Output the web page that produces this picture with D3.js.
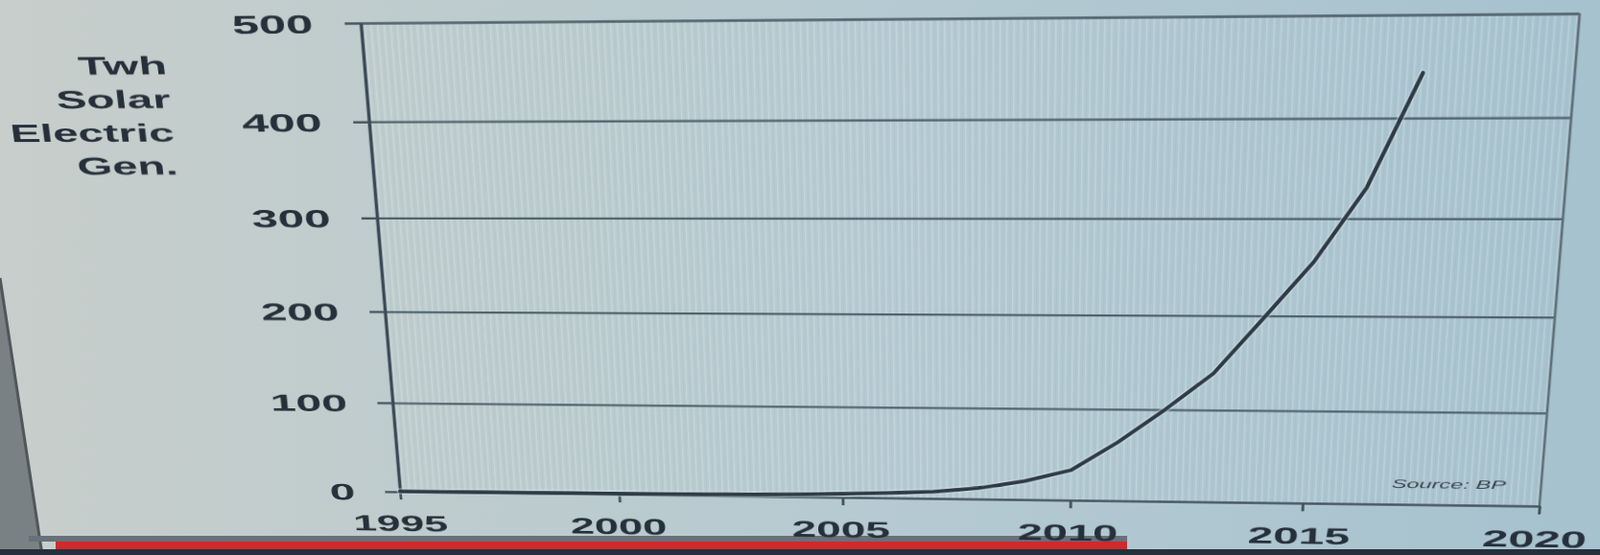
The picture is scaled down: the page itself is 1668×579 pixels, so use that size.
<!DOCTYPE html>
<html><head><meta charset="utf-8">
<script src="https://cdn.jsdelivr.net/npm/d3@7"></script>
<style>
html,body{margin:0;padding:0;width:1668px;height:579px;overflow:hidden;background:#bccbcd;}
#bg{position:absolute;left:0;top:0;}
#wrap{position:absolute;left:0;top:0;width:1668px;height:579px;transform-origin:0 0;}
#chart{overflow:visible;}
text{font-family:"Liberation Sans",Arial,sans-serif;}
</style></head><body>
<svg id="bg" width="1668" height="579"></svg>
<div id="wrap"><svg id="chart" width="1668" height="579"></svg></div>
<script>
// ---- data ----
const years = [1995,1996,1997,1998,1999,2000,2001,2002,2003,2004,2005,2006,2007,2008,2009,2010,2011,2012,2013,2014,2015,2016,2017];
const solarTWh = [0.5,0.6,0.7,0.8,0.9,1.1,1.3,1.6,2.0,2.7,3.9,5.6,7.6,12.1,20.5,33.0,64.0,100.0,139.0,197.0,256.0,331.0,444.0];
const yTicks = [0,100,200,300,400,500];
const xTicks = [1995,2000,2005,2010,2015,2020];
const titleLines = ["Twh","Solar","Electric","Gen."];
const sourceNote = "Source: BP";

// ---- layout (flat chart frame) ----
const W = 1668, H = 579;
const L = 396, R = 1627, T = 19, B = 520;
const ink = "#26303a";

// background + screen frame details (bezel / player bar)
const bg = d3.select("#bg");
const grad = bg.append("defs").append("linearGradient").attr("id","bgg").attr("x1",0).attr("x2",1).attr("y1",0).attr("y2",0);
[[0,"#c7cecb"],[0.25,"#bfcccd"],[0.55,"#b5cad2"],[1,"#a6c2ce"]].forEach(([o,c])=>grad.append("stop").attr("offset",o).attr("stop-color",c));
bg.append("rect").attr("width",W).attr("height",H).attr("fill","url(#bgg)");
bg.append("polygon").attr("points","0,290 0,579 44,579").attr("fill","#7a8184");
bg.append("line").attr("x1",0).attr("y1",290).attr("x2",44).attr("y2",579).attr("stroke","#50575b").attr("stroke-width",3);
bg.append("rect").attr("x",30).attr("y",559).attr("width",1145).attr("height",6).attr("fill","#66717a");
bg.append("rect").attr("x",58).attr("y",565).attr("width",1117).attr("height",8).attr("fill","#d02a2c");
bg.append("rect").attr("x",0).attr("y",573).attr("width",W).attr("height",6).attr("fill","#25303a");

const svg = d3.select("#chart");
const x = d3.scaleLinear().domain([1995,2020]).range([L,R]);
const y = d3.scaleLinear().domain([0,500]).range([B,T]);

// screen moiré inside the plot area
const pat = svg.append("defs").append("pattern").attr("id","stripes").attr("width",7).attr("height",10).attr("patternUnits","userSpaceOnUse");
pat.append("rect").attr("x",0).attr("width",1.5).attr("height",10).attr("fill","#e4eef2").attr("opacity",0.28);
pat.append("rect").attr("x",4).attr("width",1).attr("height",10).attr("fill","#8ea6b2").attr("opacity",0.12);
svg.append("rect").attr("x",L).attr("y",T).attr("width",R-L).attr("height",B-T).attr("fill","url(#stripes)");

// gridlines
const grid = svg.append("g").attr("transform",`translate(${L},0)`)
  .call(d3.axisLeft(y).tickValues(yTicks.filter(d=>d>0)).tickSize(-(R-L)).tickFormat(""));
grid.select(".domain").remove();
grid.selectAll("line").attr("stroke","#4f626c").attr("stroke-width",2.3);

// right border
svg.append("line").attr("x1",R).attr("x2",R).attr("y1",T).attr("y2",B)
  .attr("stroke","#5d6f78").attr("stroke-width",2.6);

// x axis
const SXx = 1.9;
const gx = svg.append("g").attr("transform",`translate(0,${B})`)
  .call(d3.axisBottom(x).tickValues(xTicks).tickSize(9).tickSizeOuter(0).tickFormat(d3.format("d")));
gx.select(".domain").attr("stroke","#44545f").attr("stroke-width",2.6);
gx.selectAll("line").attr("stroke","#44545f").attr("stroke-width",3);
gx.selectAll("text").attr("x",-3/SXx).attr("y",45).attr("dy",0).attr("transform",`scale(${SXx},1)`)
  .attr("fill",ink).style("font-size","25.5px").style("font-weight","bold");

// y axis
const SXy = 2.0;
const gy = svg.append("g").attr("transform",`translate(${L},0)`)
  .call(d3.axisLeft(y).tickValues(yTicks).tickSize(17).tickSizeOuter(0).tickFormat(d3.format("d")));
gy.select(".domain").attr("stroke","#3a4955").attr("stroke-width",3.6);
gy.selectAll("line").attr("stroke","#44545f").attr("stroke-width",2.4);
gy.selectAll("text").attr("x",-51/SXy).attr("dy","0.36em").attr("transform",`scale(${SXy},1)`)
  .attr("fill",ink).style("font-size","26px").style("font-weight","bold");

// axis title
const SXt = 1.93;
const title = svg.append("g");
titleLines.forEach((t,i)=>{
  title.append("text").attr("transform",`translate(183,${69.5+i*34.7}) scale(${SXt},1)`)
    .attr("text-anchor","end").attr("fill",ink).style("font-size","26px").style("font-weight","bold").text(t);
});

// source note
svg.append("text").attr("transform",`translate(1591,502) scale(1.8,1)`)
  .attr("text-anchor","end").attr("fill","#3a444c").style("font-size","13px").style("font-style","italic").text(sourceNote);

// series line
const data = years.map((yr,i)=>({yr, v: solarTWh[i]}));
const line = d3.line().x(d=>x(d.yr)).y(d=>y(d.v)).curve(d3.curveLinear);
svg.append("path").datum(data).attr("d",line).attr("fill","none")
  .attr("stroke","#dbe6ec").attr("stroke-opacity",0.45).attr("stroke-width",7).attr("stroke-linejoin","round").attr("stroke-linecap","round");
svg.append("path").datum(data).attr("d",line).attr("fill","none")
  .attr("stroke","#2d3a44").attr("stroke-width",4).attr("stroke-linejoin","round").attr("stroke-linecap","round");

// ---- photo perspective: map flat frame corners to the photographed quad ----
function homography(src, dst){
  const A=[], b=[];
  for(let i=0;i<4;i++){
    const [sx,sy]=src[i], [dx,dy]=dst[i];
    A.push([sx,sy,1,0,0,0,-sx*dx,-sy*dx]); b.push(dx);
    A.push([0,0,0,sx,sy,1,-sx*dy,-sy*dy]); b.push(dy);
  }
  const n=8;
  for(let c=0;c<n;c++){
    let p=c; for(let r=c+1;r<n;r++) if(Math.abs(A[r][c])>Math.abs(A[p][c])) p=r;
    [A[c],A[p]]=[A[p],A[c]]; [b[c],b[p]]=[b[p],b[c]];
    for(let r=0;r<n;r++){ if(r===c) continue; const f=A[r][c]/A[c][c];
      for(let k=c;k<n;k++) A[r][k]-=f*A[c][k]; b[r]-=f*b[c]; }
  }
  return b.map((v,i)=>v/A[i][i]);
}
const h = homography([[L,T],[R,T],[L,B],[R,B]], [[376,24],[1647,14],[417,513],[1605,528]]);
d3.select("#wrap").style("transform",
  `matrix3d(${h[0]},${h[3]},0,${h[6]},${h[1]},${h[4]},0,${h[7]},0,0,1,0,${h[2]},${h[5]},0,1)`);
</script>
</body></html>
